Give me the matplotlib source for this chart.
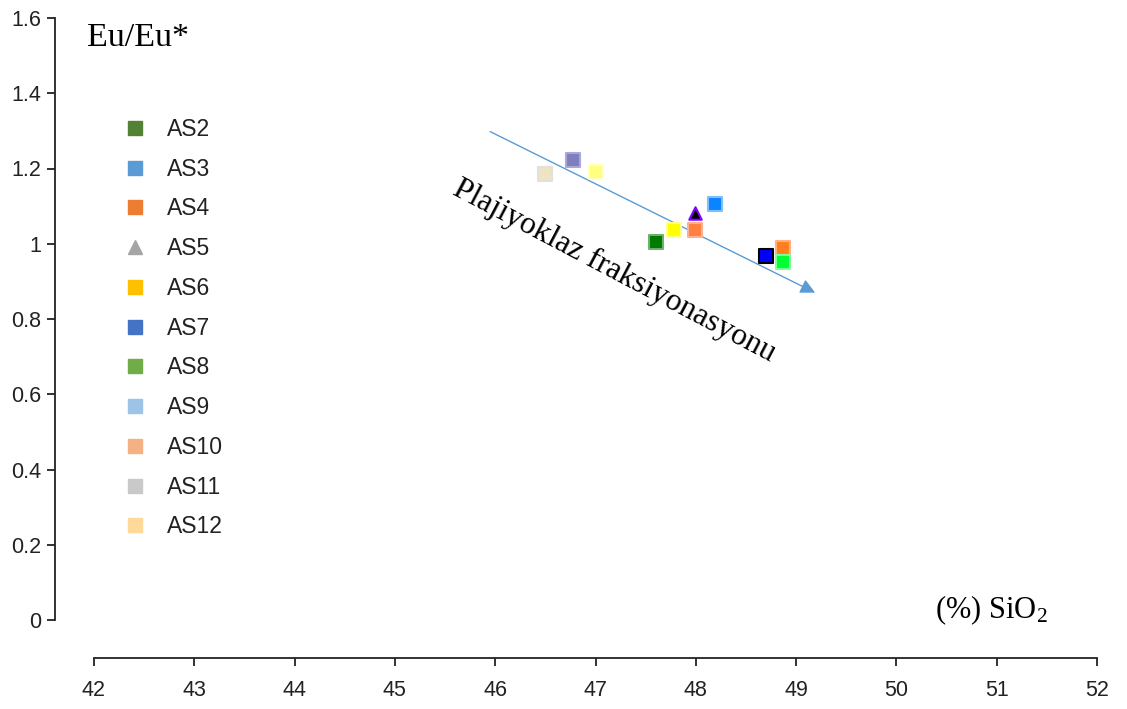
import matplotlib
matplotlib.use("Agg")
import matplotlib.pyplot as plt
from matplotlib.lines import Line2D

plt.rcParams["mathtext.fontset"] = "custom"
plt.rcParams["mathtext.rm"] = "Liberation Serif"
plt.rcParams["mathtext.it"] = "Liberation Serif:italic"

# Series names and legend colours (as shown in the legend)
series = ["AS2", "AS3", "AS4", "AS5", "AS6", "AS7", "AS8", "AS9", "AS10", "AS11", "AS12"]
legend_colors = ["#548235", "#5B9BD5", "#ED7D31", "#A5A5A5", "#FFC000", "#4472C4",
                 "#70AD47", "#9DC3E6", "#F4B183", "#C9C9C9", "#FFD999"]
legend_markers = ["s", "s", "s", "^", "s", "s", "s", "s", "s", "s", "s"]

# Plotted points (SiO2 %, Eu/Eu*) and their colours as drawn
sio2 = [47.60, 48.19, 48.87, 47.99, 47.78, 48.70, 48.87, 46.78, 47.99, 46.50, 47.00]
eu = [1.005, 1.106, 0.989, 1.083, 1.037, 0.968, 0.951, 1.223, 1.037, 1.185, 1.191]
point_colors = ["#007A00", "#0A84FF", "#FF7F1E", "#000000", "#FFFF00", "#0000FF",
                "#00FF33", "#7F7FC0", "#FF8040", "#EFE4C0", "#FFFF80"]
point_edges = ["#6FB06F", "#7FBFFF", "#FFB080", "#8000FF", "#FFFF90", "#000000",
               "#80FF99", "#A8A8D8", "#FFB090", "#E0E0E0", "#FFFFC0"]
point_markers = ["s", "s", "s", "^", "s", "s", "s", "s", "s", "s", "s"]

# Trend arrow (start, end) in data coords
arrow_x = [45.95, 49.19]
arrow_y = [1.298, 0.870]

xticks = list(range(42, 53))
yticks = [0, 0.2, 0.4, 0.6, 0.8, 1.0, 1.2, 1.4, 1.6]
ytick_labels = ["0", "0.2", "0.4", "0.6", "0.8", "1", "1.2", "1.4", "1.6"]

fig = plt.figure(figsize=(11.27, 7.09), dpi=100)
ax = fig.add_axes([55 / 1127, 51 / 709, 1042 / 1127, 640 / 709])
ax.set_xlim(42 - 39 / 100.3, 52)
ax.set_ylim(-38 / 376.25, 1.6)

for s in ["top", "right"]:
    ax.spines[s].set_visible(False)
ax.spines["left"].set_bounds(0, 1.6)
ax.spines["bottom"].set_bounds(42, 52)
for s in ["left", "bottom"]:
    ax.spines[s].set_linewidth(1.3)
    ax.spines[s].set_color("#222222")

ax.set_xticks(xticks)
ax.set_xticklabels([str(t) for t in xticks])
ax.set_yticks(yticks)
ax.set_yticklabels(ytick_labels)
ax.tick_params(axis="both", length=6, width=1.3, color="#222222",
               labelsize=15.5, labelcolor="#222222", direction="out")
ax.tick_params(axis="x", pad=10)
ax.tick_params(axis="y", pad=4)
for lab in ax.get_xticklabels() + ax.get_yticklabels():
    lab.set_fontfamily("Liberation Sans")

for x, y, c, ec, m in zip(sio2, eu, point_colors, point_edges, point_markers):
    ax.scatter([x], [y], s=100 if m == "s" else 80, marker=m, c=c,
               edgecolors=ec, linewidths=1.5, zorder=3)

ax.annotate("", xy=(arrow_x[1], arrow_y[1]), xytext=(arrow_x[0], arrow_y[0]),
            arrowprops=dict(arrowstyle="-|>", color="#5B9BD5", lw=1.0,
                            mutation_scale=22, shrinkA=0, shrinkB=0), zorder=2)

ax.text(45.566, 1.134, "Plajiyoklaz fraksiyonasyonu", rotation=-27.8,
        rotation_mode="anchor", ha="left", va="baseline",
        fontfamily="Liberation Serif", fontsize=22.8, color="black")

ax.text(41.93, 1.548, "Eu/Eu*", fontfamily="Liberation Serif", fontsize=24.5,
        ha="left", va="center")
ax.text(50.38, 0.025, r"(%) SiO$_\mathrm{2}$", fontfamily="Liberation Serif", fontsize=22,
        ha="left", va="center")

handles = [Line2D([], [], linestyle="none", marker=m, markersize=10,
                  markerfacecolor=c, markeredgecolor=c)
           for c, m in zip(legend_colors, legend_markers)]
leg = ax.legend(handles, series, loc="upper left",
                bbox_to_anchor=(124 / 1127, 1 - 118 / 709),
                bbox_transform=fig.transFigure, frameon=False,
                prop={"family": "Liberation Sans", "size": 16.5},
                handlelength=1.0, handletextpad=0.88, labelspacing=0.73,
                borderaxespad=0, borderpad=0)
for t in leg.get_texts():
    t.set_color("#222222")

fig.savefig("out.png", dpi=100)
